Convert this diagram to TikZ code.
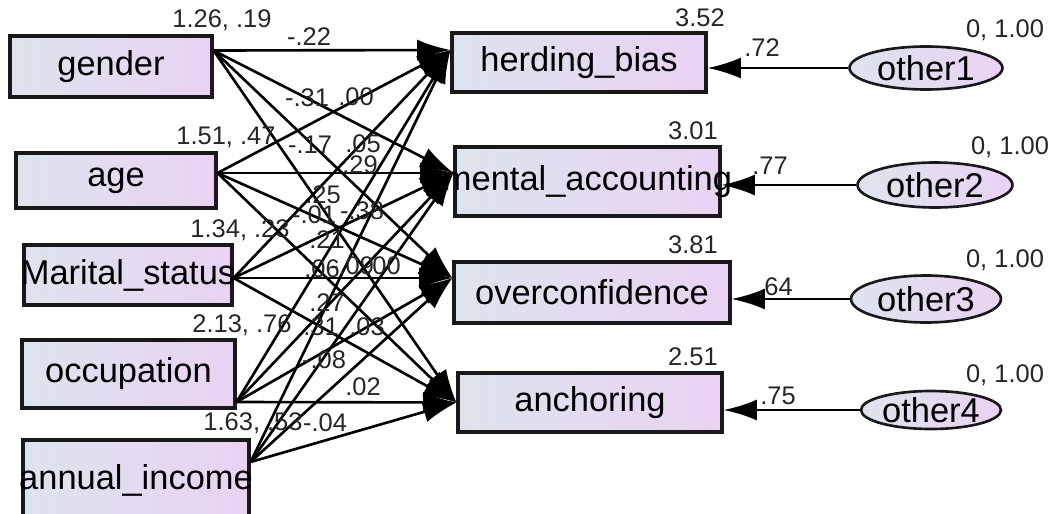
\documentclass[tikz,border=0pt]{standalone}
\usepackage{fontspec}
\setmainfont{Liberation Sans}
\usepackage{tikz}
\usetikzlibrary{calc, shapes.geometric, arrows.meta}
\definecolor{fillleft}{RGB}{221,228,238}
\definecolor{fillright}{RGB}{234,210,243}
\tikzset{
    obs/.style = {
        draw           = black!90,
        line width     = 1.8pt,
        left color     = fillleft,
        right color    = fillright,
        inner sep      = 0pt,
        font           = \fontsize{19.6}{22}\selectfont,
    },
    err/.style = {
        obs,
        ellipse,
        line width     = 1.5pt,
    },
    regpath/.style = {
        -{Latex[length=19pt, width=12pt]},
        line width     = 1.5pt,
    },
    est/.style = {
        inner sep      = 0pt,
        font           = \fontsize{14.5}{16}\selectfont,
        text           = black!85,
    },
}

\begin{document}
\begin{tikzpicture}[x=0.02cm, y=-0.02cm]
        \useasboundingbox (0,0) rectangle (1052,514);

        \node (gender) [obs, minimum width=4.04cm, minimum height=1.22cm] at (111,66.5) {\makebox[0pt]{gender}};
        \node (age) [obs, minimum width=4cm, minimum height=1.1cm] at (116,180.5) {\makebox[0pt]{age}};
        \node (marital) [obs, minimum width=4.16cm, minimum height=1.2cm] at (128,275) {\makebox[0pt]{Marital\_status}};
        \node (occupation) [obs, minimum width=4.26cm, minimum height=1.36cm] at (128.5,374) {\makebox[0pt]{occupation}};
        \node (income) [obs, minimum width=4.52cm, minimum height=1.6cm] at (136,480) {\makebox[0pt]{annual\_income}};

        \node (herding) [obs, minimum width=5.08cm, minimum height=1.18cm] at (579,62.5) {\makebox[0pt]{herding\_bias}};
        \node (mental) [obs, minimum width=5.3cm, minimum height=1.38cm] at (587.5,181.5) {\makebox[0pt]{mental\_accounting}};
        \node (overconf) [obs, minimum width=5.52cm, minimum height=1.22cm] at (592,292.5) {\makebox[0pt]{overconfidence}};
        \node (anchoring) [obs, minimum width=5.28cm, minimum height=1.18cm] at (590,402.5) {\makebox[0pt]{anchoring}};

        \node (other1) [err, minimum width=3.06cm, minimum height=0.86cm] at (926,68) {\makebox[0pt]{other1}};
        \node (other2) [err, minimum width=3.1cm, minimum height=0.9cm] at (935,185) {\makebox[0pt]{other2}};
        \node (other3) [err, minimum width=3cm, minimum height=0.94cm] at (926,299) {\makebox[0pt]{other3}};
        \node (other4) [err, minimum width=2.8cm, minimum height=0.76cm] at (931,410) {\makebox[0pt]{other4}};

        \coordinate (gender-o) at ($(gender.east)+(0,-16)$);
        \coordinate (age-o) at ($(age.east)+(0,-7.5)$);
        \coordinate (marital-o) at ($(marital.east)+(0,3)$);
        \coordinate (occupation-o) at ($(occupation.east)+(0,28)$);
        \coordinate (income-o) at ($(income.east)+(0,-18)$);

        \coordinate (herding-i) at ($(herding.west)+(0,-12.5)$);
        \coordinate (mental-i) at ($(mental.west)+(0,-8.5)$);
        \coordinate (overconf-i) at ($(overconf.west)+(0,-14.5)$);
        \coordinate (anchoring-i) at (anchoring.west);

        \foreach \src in {gender, age, marital, occupation, income}
            \foreach \dst in {herding, mental, overconf, anchoring}
                \draw [regpath] (\src-o) -- (\dst-i);

        \draw [regpath] (other1.west) -- (other1.west -| herding.east);
        \draw [regpath] (other2.west) -- (other2.west -| mental.east);
        \draw [regpath] (other3.west) -- (other3.west -| overconf.east);
        \draw [regpath] (other4.west) -- (other4.west -| anchoring.east);

        \node (v-gender) [est] at (222,20) {1.26, .19};
        \node (v-age) [est] at (226,137) {1.51, .47};
        \node (v-marital) [est] at (240,230) {1.34, .23};
        \node (v-occupation) [est] at (242,325) {2.13, .76};
        \node (v-income) [est] at (253,423) {1.63, .53};

        \node (i-herding) [est] at (700,18) {3.52};
        \node (i-mental) [est] at (693,131) {3.01};
        \node (i-overconf) [est] at (693,245) {3.81};
        \node (i-anchoring) [est] at (693,357) {2.51};

        \node (v-other1) [est] at (1005,30) {0, 1.00};
        \node (v-other2) [est] at (1010,147) {0, 1.00};
        \node (v-other3) [est] at (1005,260) {0, 1.00};
        \node (v-other4) [est] at (1005,375) {0, 1.00};

        \node (w-other1) [est] at (762,48) {.72};
        \node (w-other2) [est] at (770,166) {.77};
        \node (w-other3) [est] at (775,287) {.64};
        \node (w-other4) [est] at (778,396) {.75};

        \node (c1) [est] at (309,37) {-.22};
        \node (c2) [est] at (307,98) {-.31};
        \node (c3) [est] at (356,97) {.00};
        \node (c4) [est] at (310,145) {-.17};
        \node (c5) [est] at (363,144) {.05};
        \node (c6) [est] at (360,165) {.29};
        \node (c7) [est] at (323,195) {.25};
        \node (c8) [est] at (314,215) {-.01};
        \node (c9) [est] at (362,211) {-.38};
        \node (c10) [est] at (327,240) {.21};
        \node (c11) [est] at (322,269) {.06};
        \node (c12) [est] at (352,266) {-.09};
        \node (c13) [est] at (383,266) {.00};
        \node (c14) [est] at (327,303) {.27};
        \node (c15) [est] at (321,327) {.31};
        \node (c16) [est] at (367,327) {.03};
        \node (c17) [est] at (324,360) {-.08};
        \node (c18) [est] at (363,387) {.02};
        \node (c19) [est] at (325,423) {-.04};

    \end{tikzpicture}
\end{document}
